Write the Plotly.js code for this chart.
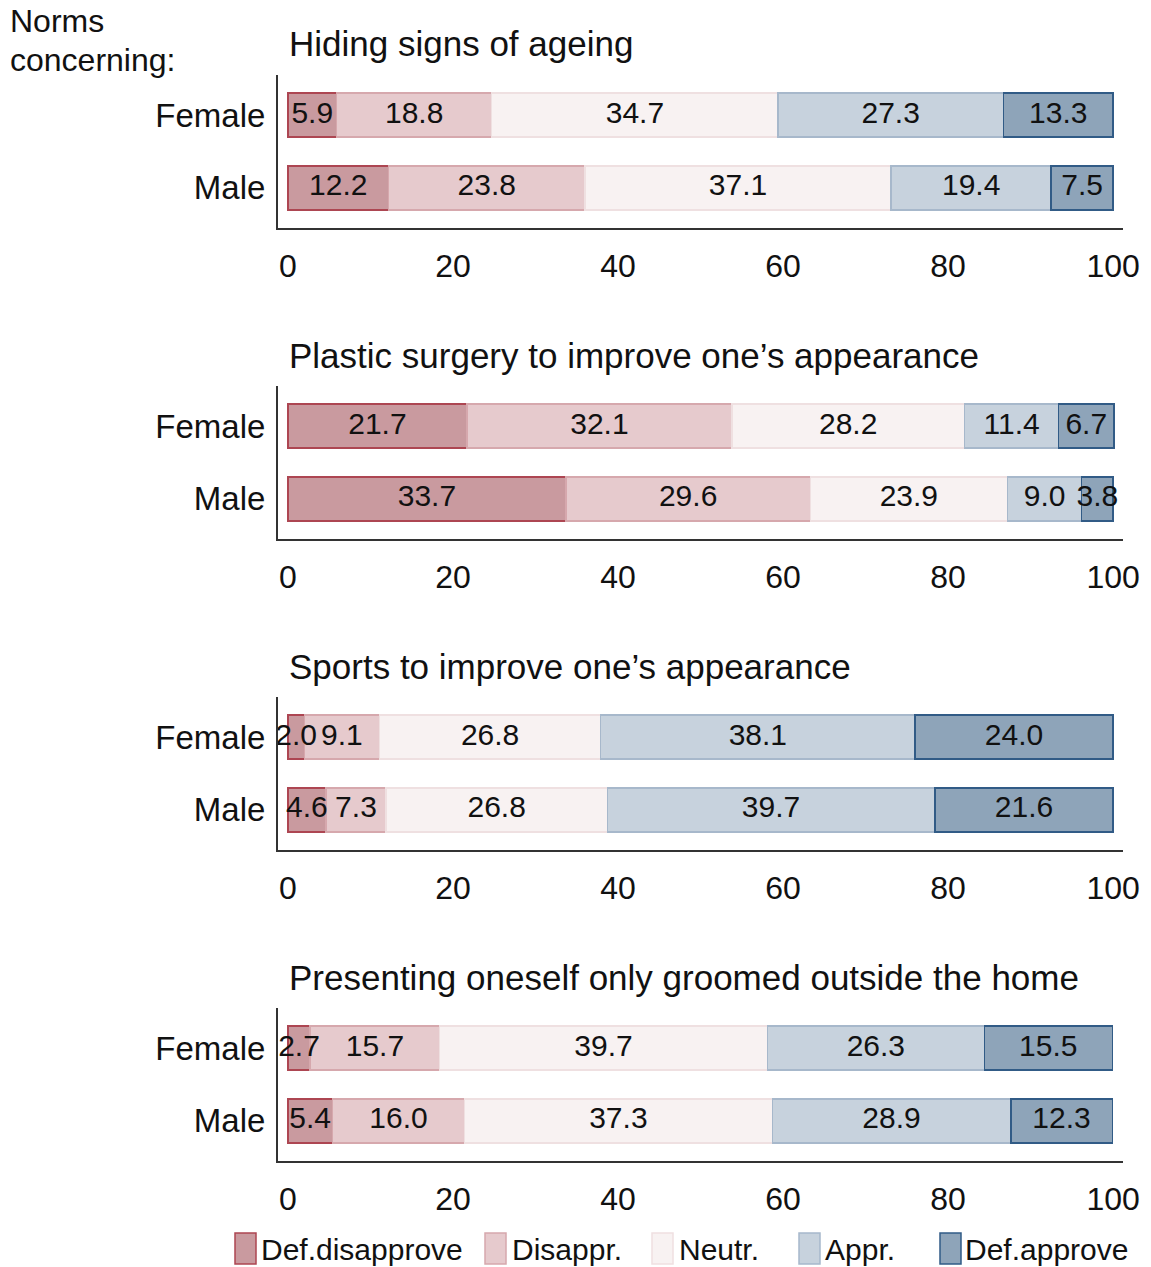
<!DOCTYPE html>
<html>
<head>
<meta charset="utf-8">
<script src="https://cdn.plot.ly/plotly-3.0.1.min.js"></script>
<style>html,body{margin:0;padding:0;background:#fff;}#chart{width:1151px;height:1267px;}</style>
</head>
<body>
<div id="chart"></div>
<script>
// ---- Data ----
const groups = ['Female', 'Male'];
const responses = ['Def.disapprove', 'Disappr.', 'Neutr.', 'Appr.', 'Def.approve'];
const topics = [
  'Hiding signs of ageing',
  'Plastic surgery to improve one\u2019s appearance',
  'Sports to improve one\u2019s appearance',
  'Presenting oneself only groomed outside the home'
];
const ageingFemale   = [5.9, 18.8, 34.7, 27.3, 13.3];
const ageingMale     = [12.2, 23.8, 37.1, 19.4, 7.5];
const surgeryFemale  = [21.7, 32.1, 28.2, 11.4, 6.7];
const surgeryMale    = [33.7, 29.6, 23.9, 9.0, 3.8];
const sportsFemale   = [2.0, 9.1, 26.8, 38.1, 24.0];
const sportsMale     = [4.6, 7.3, 26.8, 39.7, 21.6];
const groomedFemale  = [2.7, 15.7, 39.7, 26.3, 15.5];
const groomedMale    = [5.4, 16.0, 37.3, 28.9, 12.3];
const xTicks = [0, 20, 40, 60, 80, 100];

// ---- Styling ----
const fillColors = ['#c99a9f', '#e6cacd', '#f8f2f2', '#c7d2dd', '#8ea4b9'];
const lineColors = ['#ad4652', '#d6a8ad', '#efe0e1', '#a7b8cb', '#315b86'];
const FONT = '"Liberation Sans", Arial, sans-serif';
const W = 1151, H = 1267;
const panelTops = [75, 386, 697, 1008];
const panelH = 153;
const xLeft = 278, xRight = 1123;
const legendSwatchX = [235, 485, 652, 799, 940];
const legendTextX = [259, 510, 677, 823, 963];

const topicData = [
  [ageingFemale, ageingMale],
  [surgeryFemale, surgeryMale],
  [sportsFemale, sportsMale],
  [groomedFemale, groomedMale]
];

const traces = [];
const layout = {
  width: W, height: H,
  margin: {l: 0, r: 0, t: 0, b: 0},
  paper_bgcolor: '#fff', plot_bgcolor: '#fff',
  barmode: 'stack',
  font: {family: FONT, color: '#111', size: 30},
  showlegend: false,
  annotations: [],
  shapes: []
};

topicData.forEach((pair, i) => {
  const sfx = i === 0 ? '' : String(i + 1);
  const xa = 'x' + sfx, ya = 'y' + sfx;
  responses.forEach((r, k) => {
    const vals = [pair[0][k], pair[1][k]];
    traces.push({
      type: 'bar', orientation: 'h',
      y: groups, x: vals,
      xaxis: xa, yaxis: ya,
      name: r, legendgroup: r,
      width: 0.6,
      marker: {color: fillColors[k], line: {color: lineColors[k], width: 1.5}},
      hoverinfo: 'x+name'
    });
  });
  // value labels on top of all bars, at the middle of each segment
  const lx = [], ly = [], lt = [];
  pair.forEach((vals, g) => {
    let cum = 0;
    vals.forEach(v => {
      lx.push(cum + v / 2); ly.push(groups[g]); lt.push(v.toFixed(1));
      cum += v;
    });
  });
  traces.push({
    type: 'scatter', mode: 'text', x: lx, y: ly, text: lt,
    xaxis: xa, yaxis: ya, cliponaxis: false, hoverinfo: 'skip',
    textposition: 'middle center',
    textfont: {family: FONT, size: 30, color: '#111'}
  });

  const top = panelTops[i], bottom = top + panelH;
  layout['xaxis' + sfx] = {
    domain: [xLeft / W, xRight / W],
    anchor: ya,
    range: [-1.2, 101.2],
    tickvals: xTicks, ticktext: xTicks.map(String),
    showgrid: false, zeroline: false, ticks: '',
    showline: true, linecolor: '#333', linewidth: 2,
    tickfont: {family: FONT, size: 32, color: '#111'},
    ticklabelstandoff: 9,
    fixedrange: true
  };
  layout['yaxis' + sfx] = {
    domain: [1 - bottom / H, 1 - top / H],
    anchor: xa,
    type: 'category', categoryorder: 'array', categoryarray: ['Male', 'Female'],
    range: [-0.55, 1.55],
    showgrid: false, zeroline: false, ticks: '',
    showline: true, linecolor: '#333', linewidth: 2,
    tickfont: {family: FONT, size: 33, color: '#111'},
    ticklabelstandoff: 4,
    fixedrange: true
  };
  layout.annotations.push({
    text: topics[i], xref: 'paper', yref: 'paper',
    x: 287 / W, y: 1 - (top - 31) / H, xanchor: 'left', yanchor: 'middle',
    showarrow: false, font: {family: FONT, size: 35, color: '#111'}
  });
});

layout.annotations.push({
  text: 'Norms', xref: 'paper', yref: 'paper',
  x: 9 / W, y: 1 - 40 / H, xanchor: 'left', yanchor: 'bottom', borderpad: 0,
  showarrow: false, font: {family: FONT, size: 32, color: '#111'}
});
layout.annotations.push({
  text: 'concerning:', xref: 'paper', yref: 'paper',
  x: 9 / W, y: 1 - 41 / H, xanchor: 'left', yanchor: 'top', borderpad: 0,
  showarrow: false, font: {family: FONT, size: 32, color: '#111'}
});

// legend (swatch + label per response category)
responses.forEach((r, k) => {
  layout.shapes.push({
    type: 'rect', xref: 'paper', yref: 'paper',
    x0: legendSwatchX[k] / W, x1: (legendSwatchX[k] + 21) / W,
    y0: 1 - 1264 / H, y1: 1 - 1233 / H,
    fillcolor: fillColors[k], line: {color: lineColors[k], width: 1.5}
  });
  layout.annotations.push({
    text: r, xref: 'paper', yref: 'paper',
    x: legendTextX[k] / W, y: 1 - 1249 / H, xanchor: 'left', yanchor: 'middle',
    showarrow: false, font: {family: FONT, size: 30, color: '#111'}
  });
});

Plotly.newPlot('chart', traces, layout, {displayModeBar: false, staticPlot: true});
</script>
</body>
</html>
